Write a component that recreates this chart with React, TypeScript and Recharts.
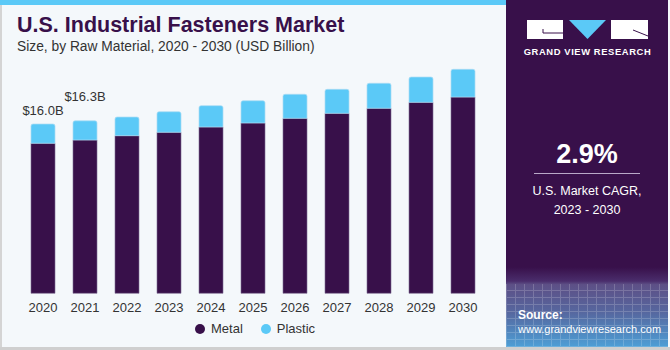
import { Bar, BarChart, LabelList, XAxis, YAxis } from "recharts";

const years = ["2020", "2021", "2022", "2023", "2024", "2025", "2026", "2027", "2028", "2029", "2030"];
const metal = [14.18, 14.49, 14.9, 15.22, 15.72, 16.1, 16.54, 17.01, 17.49, 18.05, 18.55];
const plastic = [1.82, 1.81, 1.76, 1.94, 2.01, 2.1, 2.27, 2.27, 2.36, 2.39, 2.62];
const totalLabels = ["$16.0B", "$16.3B", "", "", "", "", "", "", "", "", ""];
const seriesNames = ["Metal", "Plastic"];
const seriesColors = ["#38104a", "#5bc9f7"];

const data = years.map((year, i) => ({
  year,
  metal: metal[i],
  plastic: plastic[i],
  label: totalLabels[i],
}));

const FONT = "'Liberation Sans', Arial, sans-serif";

// first two bars carry a value label, the 2021 one sits a bit higher
const labelLift = [9, 20];

function TotalLabel(props: any) {
  const { x, y, width, value, index } = props;
  if (!value) return null;
  return (
    <text
      x={x + width / 2}
      y={y - (labelLift[index] ?? 9)}
      textAnchor="middle"
      fill="#333"
      fontSize={13}
      fontFamily={FONT}
    >
      {value}
    </text>
  );
}

export default function App() {
  return (
    <div
      style={{
        position: "fixed",
        left: 0,
        top: 0,
        width: 670,
        height: 350,
        background: "#f4f8fb",
        overflow: "hidden",
        fontFamily: FONT,
      }}
    >
      {/* borders */}
      <div style={{ position: "absolute", left: 0, top: 0, width: 2, height: 350, background: "#d4d4d4" }} />
      <div style={{ position: "absolute", left: 0, top: 347, width: 670, height: 3, background: "#cfcfcf" }} />
      <div style={{ position: "absolute", left: 0, top: 0, width: 506, height: 5, background: "#5bc9f7" }} />

      <div style={{ position: "absolute", left: 17, top: 13, fontSize: 21.5, fontWeight: 700, color: "#38104a", whiteSpace: "nowrap" }}>
        U.S. Industrial Fasteners Market
      </div>
      <div style={{ position: "absolute", left: 17, top: 39, fontSize: 13.8, color: "#333", whiteSpace: "nowrap" }}>
        Size, by Raw Material, 2020 - 2030 (USD Billion)
      </div>

      <div style={{ position: "absolute", left: 0, top: 0 }}>
        <BarChart
          width={506}
          height={350}
          data={data}
          margin={{ top: 28.8, right: 22, left: 22, bottom: 36.7 }}
          barSize={24}
        >
          <XAxis
            dataKey="year"
            axisLine={false}
            tickLine={false}
            height={20}
            tickMargin={3}
            tick={{ fill: "#333", fontSize: 13, fontFamily: FONT }}
            interval={0}
          />
          <YAxis hide domain={[0, 25]} />
          <Bar dataKey="metal" stackId="a" fill={seriesColors[0]} stroke="#7d6a92" strokeOpacity={0.6} isAnimationActive={false} />
          <Bar
            dataKey="plastic"
            stackId="a"
            fill={seriesColors[1]}
            stroke="#a9dcf3"
            strokeOpacity={0.7}
            radius={[2, 2, 0, 0]}
            isAnimationActive={false}
          >
            <LabelList dataKey="label" content={TotalLabel} />
          </Bar>
        </BarChart>
      </div>

      {/* legend */}
      <div style={{ position: "absolute", left: 195, top: 321, display: "flex", gap: 18, fontSize: 13, color: "#333" }}>
        {seriesNames.map((name, i) => (
          <div key={name} style={{ display: "flex", alignItems: "center", gap: 6 }}>
            <span style={{ width: 10, height: 10, borderRadius: 5, background: seriesColors[i], display: "inline-block" }} />
            <span>{name}</span>
          </div>
        ))}
      </div>

      {/* right panel */}
      <div
        style={{
          position: "absolute",
          left: 506,
          top: 0,
          width: 162,
          height: 347,
          background: "linear-gradient(180deg, #38104a 0%, #38104a 77%, #4a2d6c 81%, #5d4f86 82%, #56679f 90%, #4d9fd6 100%)",
        }}
      >
        <div
          style={{
            position: "absolute",
            left: 0,
            top: 284,
            width: 162,
            height: 63,
            opacity: 0.18,
            backgroundImage:
              "repeating-linear-gradient(90deg, #fff 0 1px, transparent 1px 9px), repeating-linear-gradient(0deg, #fff 0 1px, transparent 1px 7px)",
          }}
        />
        <svg width={162} height={60} style={{ position: "absolute", left: 0, top: 0 }}>
          <rect x={21} y={20} width={36} height={19} fill="#fff" />
          <path d="M37 29 V33 H57" stroke="#38104a" strokeWidth={1} fill="none" />
          <polygon points="63,20 100,20 81.5,39" fill="#5bc9f7" />
          <rect x={105} y={20} width={37} height={19} fill="#fff" />
          <path d="M127 30 L142 36" stroke="#38104a" strokeWidth={1} fill="none" />
          <text x={81.5} y={55} textAnchor="middle" fill="#fff" fontSize={9.4} fontWeight={700} fontFamily={FONT} letterSpacing={0.6}>
            GRAND VIEW RESEARCH
          </text>
        </svg>
        <div style={{ position: "absolute", left: 0, width: 162, top: 139, textAlign: "center", color: "#fff", fontSize: 27, fontWeight: 700 }}>
          2.9%
        </div>
        <div style={{ position: "absolute", left: 28, top: 173, width: 106, height: 1, background: "#b9a9c8" }} />
        <div style={{ position: "absolute", left: 0, width: 162, top: 182, textAlign: "center", color: "#fff", fontSize: 12.5, lineHeight: "19px" }}>
          U.S. Market CAGR,
          <br />
          2023 - 2030
        </div>
        <div style={{ position: "absolute", left: 12, top: 309, color: "#fff", fontSize: 11, lineHeight: "13.5px", whiteSpace: "nowrap" }}>
          <b style={{ fontSize: 12 }}>Source:</b>
          <br />
          www.grandviewresearch.com
        </div>
      </div>
    </div>
  );
}
